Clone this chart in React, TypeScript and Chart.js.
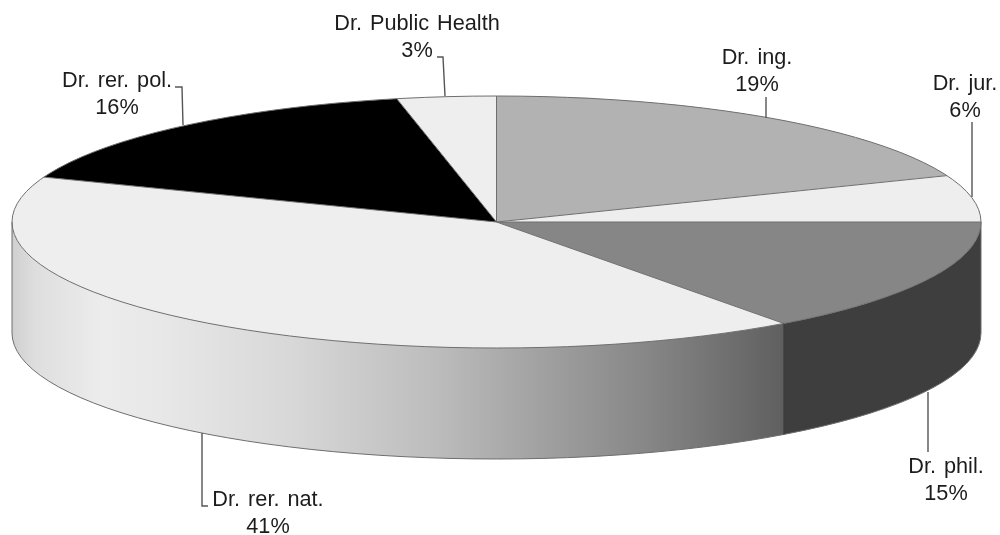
import React, { useEffect, useRef } from "react";
import { Chart, registerables } from "chart.js";

Chart.register(...registerables);

const categories = ["Dr. ing.", "Dr. jur.", "Dr. phil.", "Dr. rer. nat.", "Dr. rer. pol.", "Dr. Public Health"];
const shares = [19, 6, 14.9, 40.9, 15.9, 3.3];
const topColours = ["#b2b2b2", "#eeeeee", "#868686", "#eeeeee", "#000000", "#eeeeee"];

const CENTER_X = 496.5;
const CENTER_Y = 222;
const RADIUS_X = 484.5;
const RADIUS_Y = 126;
const DEPTH = 111;

// label centre x, first-line baseline, leader polyline
const labelLayout: { x: number; y: number; leader: number[][] }[] = [
  { x: 757, y: 64, leader: [[766, 97], [766, 118]] },
  { x: 965, y: 89.5, leader: [[972, 122], [972, 197]] },
  { x: 946, y: 473, leader: [[928, 392], [928, 452]] },
  { x: 268, y: 506, leader: [[202, 433], [202, 506], [208, 506]] },
  { x: 117, y: 86.5, leader: [[175, 87], [182, 87], [183, 125]] },
  { x: 417, y: 30, leader: [[437, 57], [443, 57], [445, 96]] },
];

const wallStops: [number, string][] = [
  [0, "#cfcfcf"],
  [0.03, "#dedede"],
  [0.115, "#ececec"],
  [0.19, "#e8e8e8"],
  [0.36, "#d8d8d8"],
  [0.55, "#bcbcbc"],
  [0.635, "#ababab"],
  [0.83, "#858585"],
  [1, "#5f5f5f"],
];

const flattenPie = {
  id: "flattenPie",
  beforeDatasetsDraw(chart: any) {
    const ctx = chart.ctx;
    const arcs = chart.getDatasetMeta(0).data;
    const { x, y, outerRadius } = arcs[0].getProps(["x", "y", "outerRadius"], true);
    const seamX = CENTER_X + Math.cos(arcs[2].endAngle) * RADIUS_X;
    const natGradient = ctx.createLinearGradient(CENTER_X - RADIUS_X, 0, seamX, 0);
    wallStops.forEach(([o, c]) => natGradient.addColorStop(o, c));
    arcs.forEach((arc: any, i: number) => {
      const a0 = Math.max(arc.startAngle, 0);
      const a1 = Math.min(arc.endAngle, Math.PI);
      if (a1 <= a0) return;
      ctx.save();
      ctx.beginPath();
      ctx.ellipse(CENTER_X, CENTER_Y, RADIUS_X, RADIUS_Y, 0, a0, a1);
      ctx.ellipse(CENTER_X, CENTER_Y + DEPTH, RADIUS_X, RADIUS_Y, 0, a1, a0, true);
      ctx.closePath();
      ctx.fillStyle = i === 3 ? natGradient : "#3e3e3e";
      ctx.fill();
      ctx.restore();
    });
    ctx.save();
    ctx.translate(CENTER_X, CENTER_Y);
    ctx.scale(RADIUS_X / outerRadius, RADIUS_Y / outerRadius);
    ctx.translate(-x, -y);
  },
  afterDatasetsDraw(chart: any) {
    const ctx = chart.ctx;
    ctx.restore();
    const arcs = chart.getDatasetMeta(0).data;
    ctx.save();
    ctx.lineWidth = 1;
    ctx.strokeStyle = "#6e6e6e";
    ctx.beginPath();
    ctx.ellipse(CENTER_X, CENTER_Y, RADIUS_X, RADIUS_Y, 0, 0, Math.PI * 2);
    ctx.moveTo(CENTER_X + RADIUS_X, CENTER_Y);
    ctx.lineTo(CENTER_X + RADIUS_X, CENTER_Y + DEPTH);
    ctx.ellipse(CENTER_X, CENTER_Y + DEPTH, RADIUS_X, RADIUS_Y, 0, 0, Math.PI);
    ctx.lineTo(CENTER_X - RADIUS_X, CENTER_Y);
    ctx.stroke();
    arcs.forEach((arc: any) => {
      ctx.beginPath();
      ctx.moveTo(CENTER_X, CENTER_Y);
      ctx.lineTo(CENTER_X + Math.cos(arc.startAngle) * RADIUS_X, CENTER_Y + Math.sin(arc.startAngle) * RADIUS_Y);
      ctx.stroke();
    });
    const seam = arcs[2].endAngle;
    const sx = CENTER_X + Math.cos(seam) * RADIUS_X;
    const sy = CENTER_Y + Math.sin(seam) * RADIUS_Y;
    ctx.strokeStyle = "#3a3a3a";
    ctx.beginPath();
    ctx.moveTo(sx, sy);
    ctx.lineTo(sx, sy + DEPTH);
    ctx.stroke();

    ctx.font = '21.7px "Liberation Sans", Arial, sans-serif';
    ctx.fillStyle = "#1c1c1c";
    ctx.textAlign = "center";
    ctx.textBaseline = "alphabetic";
    (ctx as any).wordSpacing = "2px";
    labelLayout.forEach((l, i) => {
      ctx.fillText(categories[i], l.x, l.y);
      ctx.fillText(`${Math.round(shares[i])}%`, l.x, l.y + 27.3);
      ctx.beginPath();
      ctx.strokeStyle = "#555555";
      ctx.lineWidth = 1.4;
      l.leader.forEach(([px, py], k) => (k ? ctx.lineTo(px, py) : ctx.moveTo(px, py)));
      ctx.stroke();
    });
    ctx.restore();
  },
};

export default function App() {
  const ref = useRef<HTMLCanvasElement>(null);
  useEffect(() => {
    document.body.style.margin = "0";
    const chart = new Chart(ref.current!, {
      type: "pie",
      data: {
        labels: categories,
        datasets: [{ data: shares, backgroundColor: topColours, borderWidth: 0 }],
      },
      options: {
        animation: false,
        responsive: false,
        maintainAspectRatio: false,
        plugins: { legend: { display: false }, tooltip: { enabled: false } },
      },
      plugins: [flattenPie],
    } as any);
    return () => chart.destroy();
  }, []);
  return <canvas ref={ref} width={1000} height={535} style={{ display: "block", background: "#ffffff" }} />;
}
